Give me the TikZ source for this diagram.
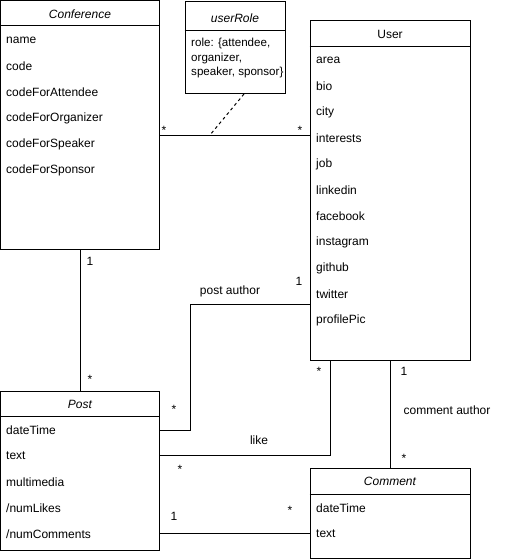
\documentclass[tikz,border=0pt]{standalone}
\usepackage{fontspec}
\setmainfont{Liberation Sans}
\begin{document}
\begin{tikzpicture}[x=1pt,y=-1pt,
  box/.style={draw, line width=1pt, rectangle, inner sep=0pt},
  attr/.style={anchor=west, inner sep=0pt, font=\fontsize{12}{14}\selectfont},
  rattr/.style={anchor=west, inner sep=0pt, font=\fontsize{11.6}{14}\selectfont},
  ttl/.style={inner sep=0pt, font=\fontsize{12}{14}\selectfont\itshape},
  ttlup/.style={inner sep=0pt, font=\fontsize{12}{14}\selectfont},
  lbl/.style={inner sep=0pt, font=\fontsize{12}{14}\selectfont},
  conn/.style={line width=1pt},
  sep/.style={line width=1pt}]
\useasboundingbox (0,0) rectangle (512,559);

% Boxes
\node[box, minimum width=159pt, minimum height=248pt] (conf) at (80,125) {};
\node[box, minimum width=100pt, minimum height=92pt] (role) at (235,48) {};
\node[box, minimum width=160pt, minimum height=339pt] (user) at (390,190.5) {};
\node[box, minimum width=159pt, minimum height=159pt] (post) at (80,470.5) {};
\node[box, minimum width=160pt, minimum height=90pt] (comm) at (390,513) {};

% separators
\coordinate (cs) at (0,26);
\draw[sep] (conf.west |- cs) -- (conf.east |- cs);
\coordinate (rs) at (0,31);
\draw[sep] (role.west |- rs) -- (role.east |- rs);
\coordinate (us) at (0,47);
\draw[sep] (user.west |- us) -- (user.east |- us);
\coordinate (ps) at (0,416);
\draw[sep] (post.west |- ps) -- (post.east |- ps);
\coordinate (ms) at (0,494);
\draw[sep] (comm.west |- ms) -- (comm.east |- ms);

% titles
\node[ttl] (conft) at (80,14) {Conference};
\node[ttl] (rolet) at (235,18) {userRole};
\node[ttlup] (usert) at (390,34) {User};
\node[ttl] (postt) at (80,404) {Post};
\node[ttl] (commt) at (390,481) {Comment};

% Conference attributes
\node[attr] (c1) at (6,40) {name};
\node[attr] (c2) at (6,66) {code};
\node[attr] (c3) at (6,92) {codeForAttendee};
\node[attr] (c4) at (6,118) {codeForOrganizer};
\node[attr] (c5) at (6,144) {codeForSpeaker};
\node[attr] (c6) at (6,170) {codeForSponsor};

% userRole attributes
\node[rattr] (r1) at (191,44) {role: \{attendee,};
\node[rattr] (r2) at (191,58.5) {organizer,};
\node[rattr] (r3) at (191,73) {speaker, sponsor\}};

% User attributes
\node[attr] (u1) at (316,60) {area};
\node[attr] (u2) at (316,86) {bio};
\node[attr] (u3) at (316,112) {city};
\node[attr] (u4) at (316,138) {interests};
\node[attr] (u5) at (316,164) {job};
\node[attr] (u6) at (316,190) {linkedin};
\node[attr] (u7) at (316,216) {facebook};
\node[attr] (u8) at (316,242) {instagram};
\node[attr] (u9) at (316,268) {github};
\node[attr] (u10) at (316,294) {twitter};
\node[attr] (u11) at (316,320) {profilePic};

% Post attributes
\node[attr] (p1) at (6,430) {dateTime};
\node[attr] (p2) at (6,456) {text};
\node[attr] (p3) at (6,482) {multimedia};
\node[attr] (p4) at (6,508) {/numLikes};
\node[attr] (p5) at (6,534) {/numComments};

% Comment attributes
\node[attr] (m1) at (316,508) {dateTime};
\node[attr] (m2) at (316,534) {text};

% Connectors
\draw[conn] (conf.south) -- (post.north);
\node[lbl] (l1) at (90,261) {1};
\node[lbl] (l2) at (90,379) {*};

\coordinate (cu) at (0,135);
\draw[conn] (conf.east |- cu) -- (user.west |- cu);
\node[lbl] (l3) at (164,130) {*};
\node[lbl] (l4) at (300,130) {*};
\coordinate (rolefoot) at (244,94);
\coordinate (assocmid) at (210,135);
\draw[conn, dash pattern=on 3pt off 3pt] (rolefoot) -- (assocmid);

% post author
\coordinate (pa1) at (190,430);
\coordinate (pa2) at (190,304);
\draw[conn] (post.east |- pa1) -- (pa1) -- (pa2) -- (user.west |- pa2);
\node[lbl] (pal) at (230,291) {post author};
\node[lbl] (l5) at (299,281) {1};
\node[lbl] (l6) at (174,409) {*};

% like
\coordinate (lk1) at (330,455);
\draw[conn] (post.east |- lk1) -- (lk1) -- (lk1 |- user.south);
\node[lbl] (lkl) at (259,440) {like};
\node[lbl] (l7) at (319,371) {*};
\node[lbl] (l8) at (180,469) {*};

% comment author
\draw[conn] (user.south) -- (comm.north);
\node[lbl] (cal) at (447,410) {comment author};
\node[lbl] (l9) at (404,371) {1};
\node[lbl] (l10) at (404,458) {*};

% post-comment
\coordinate (pc) at (0,533);
\draw[conn] (post.east |- pc) -- (comm.west |- pc);
\node[lbl] (l11) at (174,516) {1};
\node[lbl] (l12) at (290,510) {*};
\end{tikzpicture}
\end{document}
